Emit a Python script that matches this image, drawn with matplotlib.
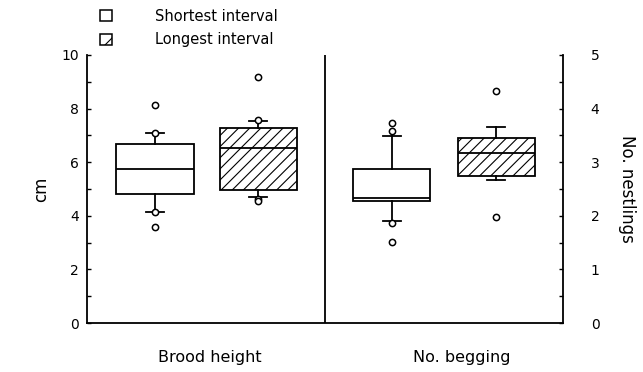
"""
Box plots: brood height (cm) and number begging (nestlings),
shortest vs longest feeding interval.
"""
import matplotlib
matplotlib.use("Agg")
import matplotlib.pyplot as plt
from matplotlib.patches import Patch

plt.rcParams['font.family'] = ['DejaVu Sans']
plt.rcParams['hatch.linewidth'] = 0.8

# --- data ---
groups = ['Brood height', 'No. begging']
intervals = ['Shortest interval', 'Longest interval']

# brood height (cm), left axis
brood_q1 = [4.80, 4.96]
brood_med = [5.74, 6.54]
brood_q3 = [6.67, 7.26]
brood_whislo = [4.14, 4.69]
brood_whishi = [7.08, 7.54]
brood_fliers = [[8.12, 7.10, 4.15, 3.59], [9.19, 7.56, 4.62, 4.55]]

# number begging (nestlings), right axis
beg_q1 = [2.28, 2.74]
beg_med = [2.33, 3.17]
beg_q3 = [2.87, 3.46]
beg_whislo = [1.90, 2.67]
beg_whishi = [3.49, 3.65]
beg_fliers = [[3.74, 3.58, 1.87, 1.52], [4.33, 1.98]]

hatches = ['', '///']

fig = plt.figure(figsize=(6.43, 3.72), dpi=100)
ax = fig.add_axes([0.1353, 0.1317, 0.7403, 0.7205])
ax2 = ax.twinx()

def stats(q1, med, q3, lo, hi, fl):
    return [dict(q1=q1[i], med=med[i], q3=q3[i], whislo=lo[i], whishi=hi[i],
                 fliers=fl[i]) for i in range(len(q1))]

common = dict(widths=0.65, patch_artist=True, showfliers=True,
              boxprops=dict(facecolor='white', edgecolor='black', linewidth=1.3),
              medianprops=dict(color='black', linewidth=1.3),
              whiskerprops=dict(color='black', linewidth=1.3),
              capprops=dict(color='black', linewidth=1.3),
              flierprops=dict(marker='o', markersize=4.5, markerfacecolor='white',
                              markeredgecolor='black', markeredgewidth=1.1),
              manage_ticks=False)

b1 = ax.bxp(stats(brood_q1, brood_med, brood_q3, brood_whislo, brood_whishi,
                  brood_fliers), positions=[0.57, 1.44], **common)
b2 = ax2.bxp(stats(beg_q1, beg_med, beg_q3, beg_whislo, beg_whishi,
                   beg_fliers), positions=[2.56, 3.44], **common)
for b in (b1, b2):
    for patch, h in zip(b['boxes'], hatches):
        patch.set_hatch(h)
    for cap in b['caps']:
        x = cap.get_xdata()
        c = (x[0] + x[1]) / 2
        cap.set_xdata([c - 0.075, c + 0.075])

ax.set_xlim(0, 4)
ax.set_ylim(0, 10)
ax2.set_ylim(0, 5)
ax.set_yticks(range(0, 11, 2))
ax.set_yticks(range(1, 11, 2), minor=True)
ax2.set_yticks(range(0, 6))
ax2.set_yticks([0.5, 1.5, 2.5, 3.5, 4.5], minor=True)
ax.set_xticks([])

for a in (ax, ax2):
    a.spines['top'].set_visible(False)
    for s in ('left', 'right', 'bottom'):
        a.spines[s].set_linewidth(1.3)
    a.tick_params(axis='y', which='both', direction='in', length=3, width=1,
                  labelsize=10, pad=6)
ax.spines['right'].set_visible(False)
ax2.spines['left'].set_visible(False)
ax2.spines['bottom'].set_visible(False)
ax2.tick_params(axis='y', pad=20)

ax.axvline(2.0, color='black', linewidth=1.3)

ax.set_ylabel('cm', fontsize=12, labelpad=8)
ax2.set_ylabel('No. nestlings', fontsize=12, rotation=-90, labelpad=26)

for x, g in zip([1.03, 3.15], groups):
    ax.text(x, -1.27, g, fontsize=11.5, ha='center', va='center',
            transform=ax.transData)

handles = [Patch(facecolor='white', edgecolor='black', hatch=h, linewidth=1.1)
           for h in ['', '//']]
fig.legend(handles, intervals, loc='upper left', bbox_to_anchor=(0.135, 1.012),
           frameon=False, fontsize=10.5, handlelength=0.8, handleheight=0.8,
           handletextpad=3.0, labelspacing=0.6)

fig.savefig('out.png', dpi=100)
